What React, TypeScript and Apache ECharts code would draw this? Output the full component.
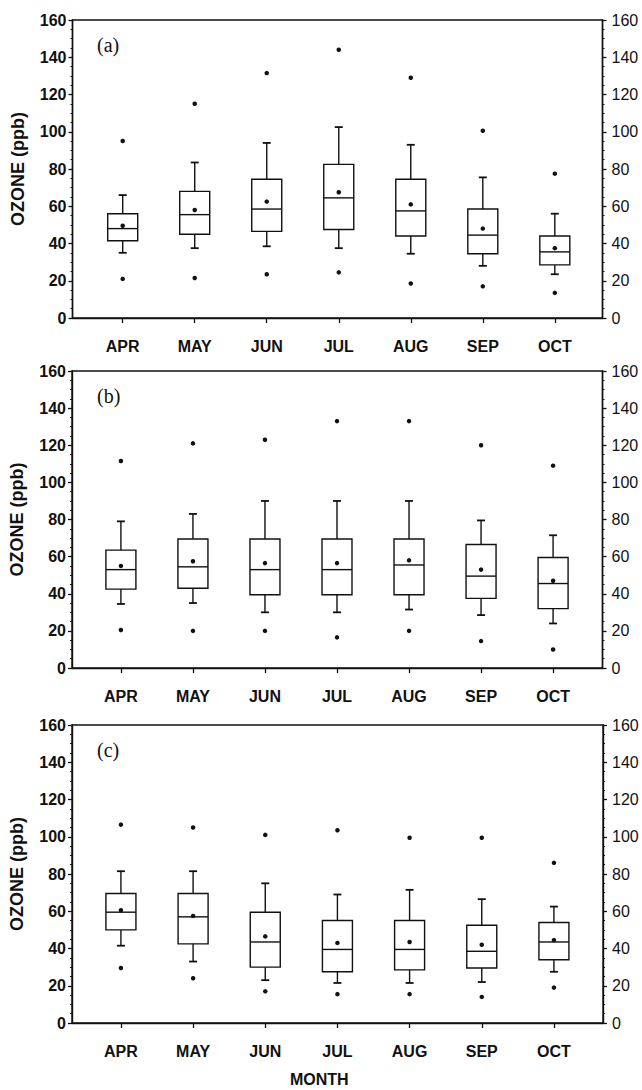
import React, { useEffect, useRef } from "react";
import * as echarts from "echarts";

// Month categories
const months = ["APR", "MAY", "JUN", "JUL", "AUG", "SEP", "OCT"];
const yTicks = [0, 20, 40, 60, 80, 100, 120, 140, 160];
const panelLabels = ["(a)", "(b)", "(c)"];

// Box stats per month: [lowDot, lowCap, Q1, median, Q3, highCap, highDot]
const statsA = [
  [21, 35, 41.5, 48, 56, 66, 95],
  [21.5, 37.5, 45, 55.5, 68, 83.5, 115],
  [23.5, 38.5, 46.5, 58.5, 74.5, 94, 131.5],
  [24.5, 37.5, 47.5, 64.5, 82.5, 102.5, 144],
  [18.5, 34.5, 44, 57.5, 74.5, 93, 129],
  [17, 28, 34.5, 44.5, 58.5, 75.5, 100.5],
  [13.5, 23.5, 28.5, 35.5, 44, 56, 77.5],
];
const meansA = [49.5, 58, 62.5, 67.5, 61, 48, 37.5];

const statsB = [
  [20.5, 34.5, 42.5, 53, 63.5, 79, 111.5],
  [20, 35, 43, 54.5, 69.5, 83, 121],
  [20, 30, 39.5, 53, 69.5, 90, 123],
  [16.5, 30, 39.5, 53, 69.5, 90, 133],
  [20, 31.5, 39.5, 55.5, 69.5, 90, 133],
  [14.5, 28.5, 37.5, 49.5, 66.5, 79.5, 120],
  [10, 24, 32, 45.5, 59.5, 71.5, 109],
];
const meansB = [55, 57.5, 56.5, 56.5, 58, 53, 47];

const statsC = [
  [29.5, 41.5, 50, 59.5, 69.5, 81.5, 106.5],
  [24, 33, 42.5, 57, 69.5, 81.5, 105],
  [17, 23, 30, 43.5, 59.5, 75, 101],
  [15.5, 21.5, 27.5, 39.5, 55, 69, 103.5],
  [15.5, 21.5, 28.5, 39.5, 55, 71.5, 99.5],
  [14, 22, 29.5, 38.5, 52.5, 66.5, 99.5],
  [19, 27.5, 34, 43.5, 54, 62.5, 86],
];
const meansC = [60.5, 57.5, 46.5, 43, 43.5, 42, 44.5];

const panels = [
  { stats: statsA, means: meansA },
  { stats: statsB, means: meansB },
  { stats: statsC, means: meansC },
];

// layout
const layout = [
  { top: 20, height: 298, left: 72.5, right: 39.5, min: -0.697, max: 6.662 },
  { top: 371, height: 297, left: 71, right: 39.5, min: -0.679, max: 6.686 },
  { top: 725, height: 298, left: 71, right: 39, min: -0.678, max: 6.68 },
];

const INK = "#111";
const SANS = "'Liberation Sans', Arial, Helvetica, sans-serif";
const SERIF = "'Liberation Serif', 'Times New Roman', serif";

export default function App() {
  const ref = useRef<HTMLDivElement>(null);

  useEffect(() => {
    if (!ref.current) return;
    const chart = echarts.init(ref.current, undefined, { renderer: "svg" });
    const idx = months.map((_, i) => i);

    const grid: any[] = [];
    const xAxis: any[] = [];
    const yAxis: any[] = [];
    const series: any[] = [];
    const graphic: any[] = [];

    layout.forEach((L, p) => {
      grid.push({
        left: L.left,
        right: L.right,
        top: L.top,
        height: L.height,
        show: true,
        borderColor: INK,
        borderWidth: 1.4,
        backgroundColor: "transparent",
      });
      xAxis.push({
        type: "value",
        gridIndex: p,
        min: L.min,
        max: L.max,
        axisLine: { show: true, onZero: false, lineStyle: { color: INK, width: 1.4 } },
        axisTick: {
          show: true,
          customValues: idx,
          length: 5,
          lineStyle: { color: INK, width: 1.3 },
        },
        axisLabel: {
          customValues: idx,
          formatter: (v: number) => months[Math.round(v)] ?? "",
          margin: 20,
          fontFamily: SANS,
          fontSize: 16,
          fontWeight: "bold",
          color: INK,
        },
        splitLine: { show: false },
      });
      const yBase = {
        type: "value",
        gridIndex: p,
        min: 0,
        max: 160,
        interval: 20,
        splitLine: { show: false },
        axisLine: { show: true, onZero: false, lineStyle: { color: INK, width: 1.4 } },
        axisTick: { show: true, length: 4, lineStyle: { color: INK, width: 1.3 } },
        minorTick: { show: true, splitNumber: 4, length: 2, lineStyle: { color: INK, width: 1 } },
      };
      yAxis.push({
        ...yBase,
        position: "left",
        name: "OZONE (ppb)",
        nameLocation: "middle",
        nameGap: 46,
        nameRotate: 90,
        nameTextStyle: { fontFamily: SANS, fontSize: 18, fontWeight: "bold", color: INK },
        axisLabel: {
          margin: 6,
          fontFamily: SANS,
          fontSize: 16,
          fontWeight: "bold",
          color: INK,
          customValues: yTicks,
        },
      });
      yAxis.push({
        ...yBase,
        position: "right",
        axisLabel: {
          margin: 9,
          fontFamily: SANS,
          fontSize: 16,
          color: INK,
          customValues: yTicks,
        },
      });

      const { stats, means } = panels[p];
      series.push({
        type: "custom",
        xAxisIndex: p,
        yAxisIndex: 2 * p,
        data: stats.map((s, i) => [i, ...s]),
        encode: { x: 0, y: [1, 2, 3, 4, 5, 6, 7] },
        renderItem: (_params: any, api: any) => {
          const x = api.value(0);
          const pt = (k: number) => api.coord([x, api.value(k)]);
          const lowCap = pt(2);
          const q1 = pt(3);
          const med = pt(4);
          const q3 = pt(5);
          const highCap = pt(6);
          const cx = q1[0];
          const hw = 15;
          const cw = 4;
          const st = { stroke: INK, lineWidth: 1.4, fill: "none" };
          return {
            type: "group",
            children: [
              { type: "rect", shape: { x: cx - hw, y: q3[1], width: 2 * hw, height: q1[1] - q3[1] }, style: { ...st, fill: "none" } },
              { type: "line", shape: { x1: cx - hw, y1: med[1], x2: cx + hw, y2: med[1] }, style: st },
              { type: "line", shape: { x1: cx, y1: q3[1], x2: cx, y2: highCap[1] }, style: st },
              { type: "line", shape: { x1: cx - cw, y1: highCap[1], x2: cx + cw, y2: highCap[1] }, style: { ...st, lineWidth: 1.8 } },
              { type: "line", shape: { x1: cx, y1: q1[1], x2: cx, y2: lowCap[1] }, style: st },
              { type: "line", shape: { x1: cx - cw, y1: lowCap[1], x2: cx + cw, y2: lowCap[1] }, style: { ...st, lineWidth: 1.8 } },
            ],
          };
        },
        z: 3,
      });
      const dots: number[][] = [];
      stats.forEach((s, i) => {
        dots.push([i, s[0]]);
        dots.push([i, s[6]]);
      });
      series.push({
        type: "scatter",
        xAxisIndex: p,
        yAxisIndex: 2 * p,
        data: dots,
        symbol: "circle",
        symbolSize: 4.5,
        itemStyle: { color: INK, opacity: 1 },
        z: 4,
      });
      series.push({
        type: "scatter",
        xAxisIndex: p,
        yAxisIndex: 2 * p,
        data: means.map((m, i) => [i, m]),
        symbol: "circle",
        symbolSize: 4.5,
        itemStyle: { color: INK, opacity: 1 },
        z: 4,
      });

      graphic.push({
        type: "text",
        left: 97,
        top: L.top + 15,
        style: { text: panelLabels[p], font: `20px ${SERIF}`, fill: INK },
      });
    });

    graphic.push({
      type: "text",
      left: 290,
      top: 1071,
      style: { text: "MONTH", font: `bold 16px ${SANS}`, fill: INK },
    });

    chart.setOption({
      animation: false,
      backgroundColor: "#fff",
      grid,
      xAxis,
      yAxis,
      series,
      graphic,
    });
    return () => chart.dispose();
  }, []);

  return (
    <div
      ref={ref}
      style={{ position: "absolute", left: 0, top: 0, width: 642, height: 1090 }}
    />
  );
}
